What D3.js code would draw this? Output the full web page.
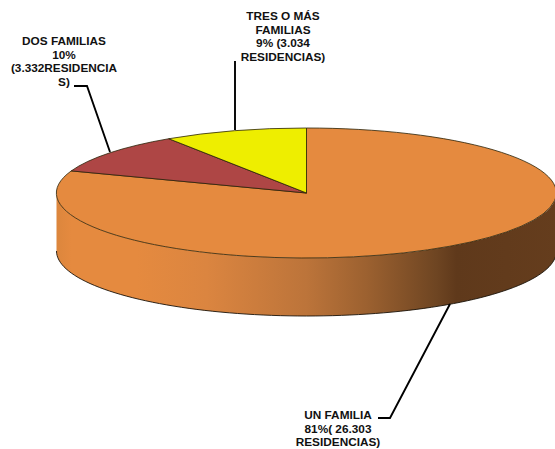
<!DOCTYPE html>
<html><head><meta charset="utf-8">
<script src="https://cdn.jsdelivr.net/npm/d3@7"></script>
<style>html,body{margin:0;padding:0;background:#fff}svg{display:block}</style>
</head><body><svg id="c" width="555" height="449"></svg>
<script>
const categories = ["UN FAMILIA", "DOS FAMILIAS", "TRES O MÁS FAMILIAS"];
const residencias = [26303, 3332, 3034];
const colors = ["#E58A3F", "#AE4645", "#EEEE00"];
const labelLines = [
  ["UN FAMILIA", "81%( 26.303", "RESIDENCIAS)"],
  ["DOS FAMILIAS", "10%", "(3.332RESIDENCIA", "S)"],
  ["TRES O MÁS", "FAMILIAS", "9% (3.034", "RESIDENCIAS)"]
];
const labelAnchor = [[338, 415], [64, 41], [283, 16]];
const leaderLines = [
  [[378, 418], [390, 418], [450, 304]],
  [[74, 86], [87, 86], [110, 152]],
  [[235, 61], [235, 130]]
];
const gradStops = [[0,"#DC863D"],[0.03,"#E58A3F"],[0.16,"#E58A3F"],[0.3,"#DB8540"],[0.5,"#BC743A"],[0.62,"#9C6130"],[0.76,"#6E4522"],[0.8,"#5F391B"],[1,"#653D1D"]];

const cx = 306.5, cy = 193, rx = 250, ry = 65, depth = 58;
const svg = d3.select("#c");
const defs = svg.append("defs");
const g = defs.append("linearGradient").attr("id","side").attr("gradientUnits","userSpaceOnUse")
  .attr("x1",cx-rx).attr("x2",cx+rx).attr("y1",0).attr("y2",0);
g.selectAll("stop").data(gradStops).join("stop").attr("offset",d=>d[0]).attr("stop-color",d=>d[1]);

// side wall
const sx = d3.scaleLinear().domain([-1,1]).range([cx-rx,cx+rx]);
const p = d3.path();
p.moveTo(sx(-1),cy);
p.lineTo(sx(-1),cy+depth);
const front = d3.range(180,-1,-2).map(a=>[sx(Math.cos(a*Math.PI/180)), cy+depth+ry*Math.sin(a*Math.PI/180)]);
const back = d3.range(0,181,2).map(a=>[sx(Math.cos(a*Math.PI/180)), cy+ry*Math.sin(a*Math.PI/180)]);
const line = d3.line();
svg.append("path").attr("d", p.toString()+"L"+line(front).slice(1)+"L"+line(back).slice(1)+"Z")
  .attr("fill","url(#side)").attr("stroke","none");
svg.append("path").attr("d", line(front)).attr("fill","none").attr("stroke","#1a1208").attr("stroke-width",0.9);

// top face
const pie = d3.pie().sort(null).value(d=>d)(residencias);
const arc = d3.arc().innerRadius(0).outerRadius(1);
svg.append("g").attr("transform",`translate(${cx},${cy}) scale(${rx},${ry})`)
  .selectAll("path").data(pie).join("path")
  .attr("d",arc).attr("fill",(d,i)=>colors[i])
  .attr("stroke","#2a2208").attr("stroke-width",0.8).attr("vector-effect","non-scaling-stroke");

// leaders
svg.append("g").selectAll("path").data(leaderLines).join("path")
  .attr("d",d=>line(d)).attr("fill","none").attr("stroke","#000").attr("stroke-width",1.9);

// labels
const t = svg.append("g").attr("font-family","'Liberation Sans',Arial,sans-serif")
  .attr("font-weight","bold").attr("font-size",11.8).attr("fill","#111").attr("text-anchor","middle");
labelLines.forEach((ls,i)=>{
  ls.forEach((s,j)=>{
    t.append("text").attr("x",labelAnchor[i][0]).attr("y",labelAnchor[i][1]+j*13.6+4).text(s);
  });
});
</script></body></html>
